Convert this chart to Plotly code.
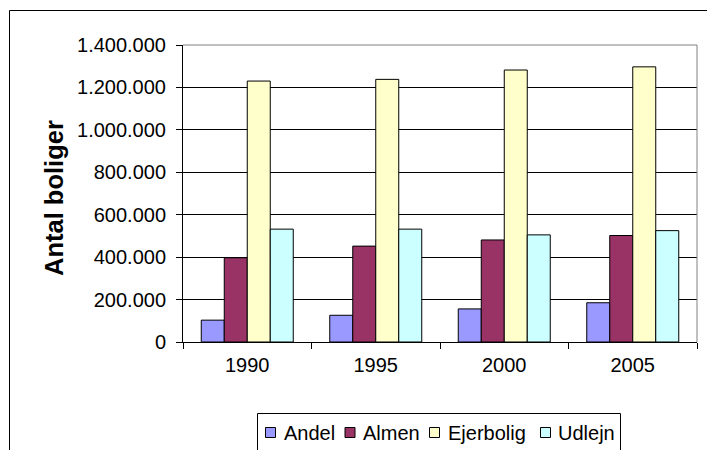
import plotly.graph_objects as go

years = ["1990", "1995", "2000", "2005"]
andel = [103000, 126000, 156000, 185000]
almen = [397000, 452000, 481000, 502000]
ejerbolig = [1230000, 1238000, 1282000, 1297000]
udlejn = [532000, 532000, 505000, 525000]

names = ["Andel", "Almen", "Ejerbolig", "Udlejn"]
values = [andel, almen, ejerbolig, udlejn]
colors = ["#9999FF", "#993366", "#FFFFCC", "#CCFFFF"]

W, H = 707, 450
L, R, T, B = 183, 10, 45, 108
pw = W - L - R
ph = H - T - B

def px_x(p):
    return (p - L) / pw

def px_y(p):
    return (H - B - p) / ph

font = "Arial, Liberation Sans, sans-serif"

fig = go.Figure()
for name, vals, col in zip(names, values, colors):
    fig.add_trace(go.Bar(
        x=years, y=vals, name=name,
        marker=dict(color=col, line=dict(color="black", width=1)),
    ))

shapes = [
    # plot area border (top, right) in gray
    dict(type="line", xref="paper", yref="paper", x0=0, x1=1, y0=1, y1=1,
         line=dict(color="#808080", width=1), layer="above"),
    dict(type="line", xref="paper", yref="paper", x0=1, x1=1, y0=0, y1=1,
         line=dict(color="#808080", width=1), layer="above"),
    # outer chart border
    dict(type="rect", xref="paper", yref="paper",
         x0=px_x(9.5), x1=px_x(730), y0=px_y(480), y1=px_y(10.5),
         line=dict(color="black", width=1), layer="below"),
    # legend box
    dict(type="rect", xref="paper", yref="paper",
         x0=px_x(257.5), x1=px_x(620.5), y0=px_y(452.5), y1=px_y(413.5),
         line=dict(color="black", width=1), fillcolor="white", layer="above"),
]
annotations = [
    dict(text="<b>Antal boliger</b>", xref="paper", yref="paper",
         x=px_x(53.5), y=px_y(198.5), xanchor="center", yanchor="middle",
         textangle=-90, showarrow=False, font=dict(size=25.5, family=font)),
]

# legend entries (custom, Excel-like compact layout)
sq_left = [265, 344.5, 429, 540]
txt_left = [282, 361, 446, 556]
cy = 432.5
for name, col, sx, tx in zip(names, colors, sq_left, txt_left):
    shapes.append(dict(type="rect", xref="paper", yref="paper",
                       x0=px_x(sx + 0.5), x1=px_x(sx + 10.5),
                       y0=px_y(cy + 5), y1=px_y(cy - 5),
                       line=dict(color="black", width=1), fillcolor=col,
                       layer="above"))
    annotations.append(dict(text=name, xref="paper", yref="paper",
                            x=px_x(tx), y=px_y(cy), xanchor="left",
                            yanchor="middle", showarrow=False,
                            font=dict(size=20, family=font)))

fig.update_layout(
    width=W, height=H,
    margin=dict(l=L, r=R, t=T, b=B, autoexpand=False),
    paper_bgcolor="white", plot_bgcolor="white",
    barmode="group", bargap=0.284, bargroupgap=0,
    separators=",.",
    font=dict(family=font, color="black", size=20),
    showlegend=False,
    xaxis=dict(
        type="category", tickson="boundaries", ticks="outside", ticklen=6,
        tickcolor="black", showline=True, linecolor="black", linewidth=1,
        showgrid=False, tickfont=dict(size=20), ticklabelstandoff=5,
    ),
    yaxis=dict(
        range=[0, 1400000], dtick=200000, tickformat=",d",
        ticks="outside", ticklen=6, tickcolor="black",
        showline=True, linecolor="black", linewidth=1,
        showgrid=True, gridcolor="black", gridwidth=1,
        zeroline=False, tickfont=dict(size=20), ticklabelstandoff=6,
    ),
    shapes=shapes,
    annotations=annotations,
)

fig.write_html("out.html", config={"displayModeBar": False},
               post_script="document.body.style.margin='0px';")
